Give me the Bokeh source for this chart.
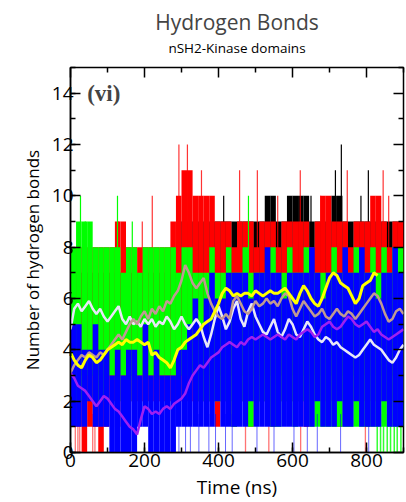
from bokeh.plotting import figure
from bokeh.models import LinearAxis, SingleIntervalTicker, FixedTicker, Title, Label, Range1d
from bokeh.embed import file_html
from bokeh.resources import INLINE

# ---------------- data ----------------
# raw hydrogen-bond counts, summarised per 15 ns window (low / high of the band)
t_bin = [7.5 + 15 * i for i in range(60)]

blue_lo = [1, 1, 1, 2, 1, 1, 1, 0, 0, 0,
           0, 0, 1, 1, 0, 0, 0, 0, 0, 1,
           1, 1, 1, 1, 1, 1, 2, 1, 1, 1,
           1, 1, 2, 1, 1, 1, 1, 1, 1, 1,
           1, 1, 1, 1, 2, 1, 1, 1, 2, 1,
           1, 2, 1, 1, 1, 1, 2, 1, 1, 1]
blue_hi = [5, 5, 4, 4, 5, 4, 4, 3, 4, 3,
           4, 4, 3, 5, 3, 4, 3, 3, 3, 4,
           4, 5, 6, 5, 6, 7, 6, 6, 7, 7,
           7, 7, 6, 7, 7, 8, 7, 7, 6, 7,
           7, 7, 7, 8, 7, 6, 7, 7, 7, 8,
           7, 7, 8, 7, 7, 6, 7, 7, 8, 7]

green_lo = [2, 2, 2, 3, 2, 2, 3, 3, 2, 3,
            3, 2, 3, 3, 3, 3, 3, 3, 3, 3,
            3, 3, 3, 2, 2, 2, 2, 2, 2, 1,
            2, 2, 1, 2, 2, 2, 1, 1, 2, 2,
            1, 2, 2, 1, 1, 1, 1, 1, 1, 1,
            1, 1, 1, 1, 1, 1, 1, 1, 1, 1]
green_hi = [8, 9, 9, 9, 8, 8, 8, 8, 8, 7,
            8, 8, 7, 8, 8, 8, 8, 8, 8, 7,
            8, 8, 7, 7, 7, 8, 7, 7, 8, 7,
            7, 8, 7, 7, 7, 7, 8, 7, 7, 8,
            7, 7, 8, 7, 7, 7, 7, 8, 7, 7,
            7, 8, 7, 7, 8, 7, 8, 7, 8, 8]

red_lo = [1, 1, 0, 1, 1, 0, 1, 2, 1, 2,
          2, 2, 2, 2, 2, 2, 2, 2, 2, 2,
          2, 2, 2, 2, 2, 2, 1, 2, 2, 1,
          2, 2, 1, 2, 2, 2, 1, 2, 2, 2,
          2, 2, 1, 2, 2, 2, 2, 2, 1, 2,
          2, 2, 2, 1, 2, 2, 2, 2, 2, 2]
red_hi = [8, 8, 8, 8, 8, 8, 8, 8, 9, 9,
          8, 8, 8, 8, 8, 8, 8, 8, 9, 10,
          11, 11, 10, 10, 10, 10, 9, 9, 9, 8,
          9, 9, 9, 8, 9, 9, 9, 8, 9, 9,
          9, 9, 9, 8, 9, 10, 10, 9, 9, 9,
          8, 9, 9, 9, 10, 10, 9, 8, 9, 9]

black_lo = [3, 3, 3, 3, 3, 3, 3, 3, 3, 3,
            3, 3, 3, 3, 3, 3, 3, 3, 3, 3,
            3, 3, 3, 3, 3, 3, 3, 3, 3, 3,
            3, 3, 3, 3, 3, 3, 3, 3, 3, 3,
            3, 3, 3, 3, 3, 3, 3, 3, 3, 3,
            3, 3, 3, 3, 3, 3, 3, 3, 3, 3]
black_hi = [7, 7, 7, 7, 7, 7, 7, 7, 7, 7,
            7, 7, 7, 7, 7, 7, 7, 7, 8, 9,
            9, 9, 9, 9, 9, 9, 9, 9, 9, 9,
            9, 9, 9, 9, 9, 10, 10, 9, 9, 10,
            10, 10, 10, 9, 9, 9, 9, 10, 10, 9,
            9, 9, 9, 9, 9, 9, 9, 9, 9, 9]

# single-frame spikes (time ns, count)
red_spk_t = [130, 194, 221, 293, 316, 354, 457, 505, 560, 621, 676, 748, 845, 860]
red_spk_v = [9, 9, 10, 12, 12, 11, 11, 11, 10, 11, 10, 11, 11, 10]
black_spk_t = [414, 650, 716, 732, 785, 805]
black_spk_v = [10, 10, 11, 12, 10, 11]
green_spk_t = [27, 40, 127, 167, 481]
green_spk_v = [10, 9, 10, 9, 10]

# single-frame drops towards zero (time ns)
blue_dip_t = [293, 311, 324, 347, 374, 392, 419, 437, 504, 550, 604, 640, 667, 730, 806]
red_dip_t = [13, 20, 25, 60, 66, 473, 536, 622, 797]
green_dip_t = [829, 838, 846, 856, 865, 875, 883, 893]

# running averages, sampled every 10 ns
t_avg = list(range(0, 901, 10))
yellow_avg = [3.9, 3.6, 3.4, 3.3, 3.6, 3.8, 3.7, 3.5, 3.6, 3.8,
              4.0, 4.1, 4.2, 4.3, 4.2, 4.4, 4.3, 4.3, 4.4, 4.3,
              4.2, 4.3, 3.8, 3.9, 3.7, 3.6, 3.5, 3.3, 3.6, 4.0,
              4.1, 4.3, 4.4, 4.5, 4.6, 4.8, 5.0, 5.1, 5.2, 5.5,
              5.8, 6.2, 6.4, 6.3, 6.1, 6.2, 6.1, 6.2, 6.2, 6.1,
              6.3, 6.2, 6.1, 6.2, 6.3, 6.2, 6.2, 6.3, 6.4, 6.2,
              6.0, 5.8, 6.2, 6.5, 6.3, 6.0, 5.8, 5.7, 6.0, 6.4,
              6.8, 7.0, 6.9, 6.6, 6.5, 6.4, 6.1, 5.8, 6.0, 6.5,
              6.6, 6.7, 7.0, 6.9]
pink_avg = [3.1, 3.4, 3.6, 3.8, 3.7, 3.9, 3.8, 3.7, 3.9, 3.8,
            4.0, 4.2, 4.4, 4.6, 4.4, 4.7, 5.0, 5.2, 5.0, 5.3,
            5.5, 5.2, 5.6, 5.4, 5.7, 5.5, 5.9, 5.8, 6.1, 6.3,
            6.7, 7.3, 7.0, 6.6, 6.4, 6.6, 6.8, 6.2, 5.8, 5.5,
            5.3, 5.2, 5.4, 5.2, 5.9, 6.1, 5.8, 5.5, 5.4, 5.6,
            5.9, 5.7, 5.8, 6.0, 5.8, 5.9, 5.7, 6.0, 6.2, 6.1,
            5.6, 5.3, 5.6, 5.9, 5.7, 5.5, 5.3, 5.4, 5.6, 5.3,
            5.2, 5.4, 5.6, 5.4, 5.3, 5.5, 5.4, 5.2, 5.4, 5.6,
            5.8, 6.0, 6.2, 6.1, 5.8, 5.4, 5.1, 5.2, 5.5, 5.6,
            5.4]
white_avg = [4.8, 5.6, 5.8, 5.5, 5.7, 5.9, 5.6, 5.4, 5.6, 5.3,
             5.1, 5.3, 5.5, 5.7, 5.2, 5.0, 5.3, 5.0, 5.1, 4.9,
             5.2, 5.0, 5.2, 4.9, 5.1, 5.0, 5.3, 5.1, 4.8, 5.0,
             5.3, 5.0, 4.8, 5.0, 5.2, 5.0, 4.5, 4.1, 4.6, 5.2,
             5.7, 5.3, 4.8, 5.1, 5.6, 5.9, 5.2, 4.9, 5.5, 5.8,
             5.3, 5.0, 4.7, 4.6, 4.9, 5.2, 4.7, 4.5, 4.8, 5.2,
             5.0, 4.6, 4.5, 4.8, 5.1, 4.9, 4.6, 4.4, 4.3, 4.5,
             4.4, 4.2, 4.3, 4.1, 4.0, 3.9, 3.8, 3.7, 3.8, 4.0,
             4.2, 4.4, 4.2, 4.1, 4.0, 3.8, 3.6, 3.5, 3.7, 4.0,
             4.2]
purple_avg = [3.1, 2.9, 2.6, 2.5, 2.4, 2.2, 2.0, 1.8, 2.0, 2.2,
              2.1, 1.9, 1.7, 1.6, 1.4, 1.2, 1.0, 0.9, 0.7, 1.3,
              1.8, 1.7, 1.5, 1.6, 1.5, 1.7, 1.8, 1.7, 1.9, 2.0,
              2.1, 2.3, 2.7, 3.0, 3.2, 3.4, 3.3, 3.5, 3.7, 3.8,
              3.9, 4.1, 4.2, 4.3, 4.2, 4.1, 4.3, 4.2, 4.4, 4.5,
              4.4, 4.5, 4.6, 4.5, 4.4, 4.5, 4.6, 4.5, 4.4, 4.6,
              4.5, 4.4, 4.6, 4.7, 4.8, 4.7, 4.5, 4.6, 4.9, 5.0,
              5.1, 4.9, 4.8, 4.9, 5.1, 5.3, 5.2, 5.0, 4.9, 5.0,
              5.1, 4.9, 4.7, 4.8, 4.6, 4.5, 4.4, 4.5, 4.6, 4.7,
              4.8]

x_major = list(range(0, 901, 200))
x_minor = list(range(100, 901, 200))
y_major = list(range(0, 15, 2))
y_minor = list(range(1, 16, 2))

# ---------------- figure ----------------
FONT = "Open Sans"
p = figure(width=405, height=502,
           x_range=Range1d(0, 900), y_range=Range1d(0, 15),
           output_backend="svg", toolbar_location=None, title=None,
           min_border_left=70, min_border_right=2, min_border_top=67, min_border_bottom=49)

p.xgrid.visible = False
p.ygrid.visible = False
p.outline_line_color = "black"
p.outline_line_width = 1.5
p.background_fill_color = "white"

BLUE, GREEN, RED, BLACK = "#0000FF", "#00FF00", "#FF0000", "#000000"
W = 15

# black
p.vbar(x=t_bin, width=W, bottom=black_lo, top=black_hi, fill_color=BLACK, line_color=None)
p.segment(x0=black_spk_t, x1=black_spk_t, y0=7, y1=black_spk_v, line_color=BLACK, line_width=1.2)
# red
p.vbar(x=t_bin, width=W, bottom=red_lo, top=red_hi, fill_color=RED, line_color=None)
p.segment(x0=red_spk_t, x1=red_spk_t, y0=7, y1=red_spk_v, line_color=RED, line_width=1.2, line_alpha=0.8)
p.segment(x0=red_dip_t, x1=red_dip_t, y0=0, y1=1.5, line_color=RED, line_width=1.3, line_alpha=0.55)
# green
p.vbar(x=t_bin, width=W, bottom=green_lo, top=green_hi, fill_color=GREEN, line_color=None)
p.segment(x0=green_spk_t, x1=green_spk_t, y0=7, y1=green_spk_v, line_color=GREEN, line_width=1.2)
p.segment(x0=green_dip_t, x1=green_dip_t, y0=0, y1=1.5, line_color=GREEN, line_width=1.5, line_alpha=0.8)
# blue
p.vbar(x=t_bin, width=W, bottom=blue_lo, top=blue_hi, fill_color=BLUE, line_color=None)
p.segment(x0=blue_dip_t, x1=blue_dip_t, y0=0, y1=1.5, line_color=BLUE, line_width=1, line_alpha=0.6)

# running averages
p.line(t_avg[:len(white_avg)], white_avg, line_color="#E8E8F8", line_width=2.5)
p.line(t_avg[:len(pink_avg)], pink_avg, line_color="#C09A92", line_width=2.5)
p.line(t_avg[:len(purple_avg)], purple_avg, line_color="#A020F0", line_width=2.5)
p.line(t_avg[:len(yellow_avg)], yellow_avg, line_color="#FFFF00", line_width=3)

p.add_layout(Label(x=45, y=14, text="(vi)", text_font="Liberation Serif", text_font_style="bold",
                   text_font_size="23px", text_baseline="middle", text_align="left"))

# axes
def style_axis(ax):
    ax.axis_line_color = "black"
    ax.axis_line_width = 1.5
    ax.major_tick_in = 10
    ax.major_tick_out = 0
    ax.minor_tick_in = 5
    ax.minor_tick_out = 0
    ax.major_tick_line_width = 1.5
    ax.minor_tick_line_width = 1.5
    ax.major_tick_line_color = "black"
    ax.minor_tick_line_color = "black"
    ax.major_label_text_font = FONT
    ax.major_label_text_color = "black"
    ax.major_label_text_font_size = "19px"
    ax.axis_label_text_font = FONT
    ax.axis_label_text_font_style = "normal"
    ax.axis_label_text_color = "black"

p.xaxis.ticker = SingleIntervalTicker(interval=200, num_minor_ticks=2)
p.yaxis.ticker = SingleIntervalTicker(interval=2, num_minor_ticks=2)
style_axis(p.xaxis[0])
style_axis(p.yaxis[0])
p.xaxis.axis_label = "Time (ns)"
p.yaxis.axis_label = "Number of hydrogen bonds"
p.xaxis.major_label_standoff = 1
p.yaxis.major_label_standoff = -3
p.xaxis.axis_label_text_font_size = "19px"
p.yaxis.axis_label_text_font_size = "17px"
p.xaxis.axis_label_standoff = 4
p.yaxis.axis_label_standoff = 5

# mirrored tick marks (no labels) on top and right: tick-only axes
def tick_axis(ticks, length):
    ax = LinearAxis(ticker=FixedTicker(ticks=[], minor_ticks=ticks))
    ax.axis_line_color = None
    ax.minor_tick_in = length
    ax.minor_tick_out = 0
    ax.minor_tick_line_width = 1.5
    ax.minor_tick_line_color = "black"
    ax.major_tick_out = 0
    ax.major_label_standoff = 0
    return ax

top_major = tick_axis(x_major, 10)
top_minor = tick_axis(x_minor, 5)
# subtitle carried by the outer top tick axis so its distance to the frame can be set
top_minor.axis_label = "nSH2-Kinase domains"
top_minor.axis_label_text_font = FONT
top_minor.axis_label_text_font_size = "13.5px"
top_minor.axis_label_text_font_style = "normal"
top_minor.axis_label_text_color = "black"
top_minor.axis_label_standoff = 11
p.add_layout(top_major, "above")
p.add_layout(top_minor, "above")
p.add_layout(tick_axis(y_major, 10), "right")
p.add_layout(tick_axis(y_minor, 5), "right")

p.add_layout(Title(text="Hydrogen Bonds", align="center", text_font=FONT,
                   text_font_size="21px", text_font_style="normal", standoff=0), "above")

open("out.html", "w").write(file_html(p, INLINE))
